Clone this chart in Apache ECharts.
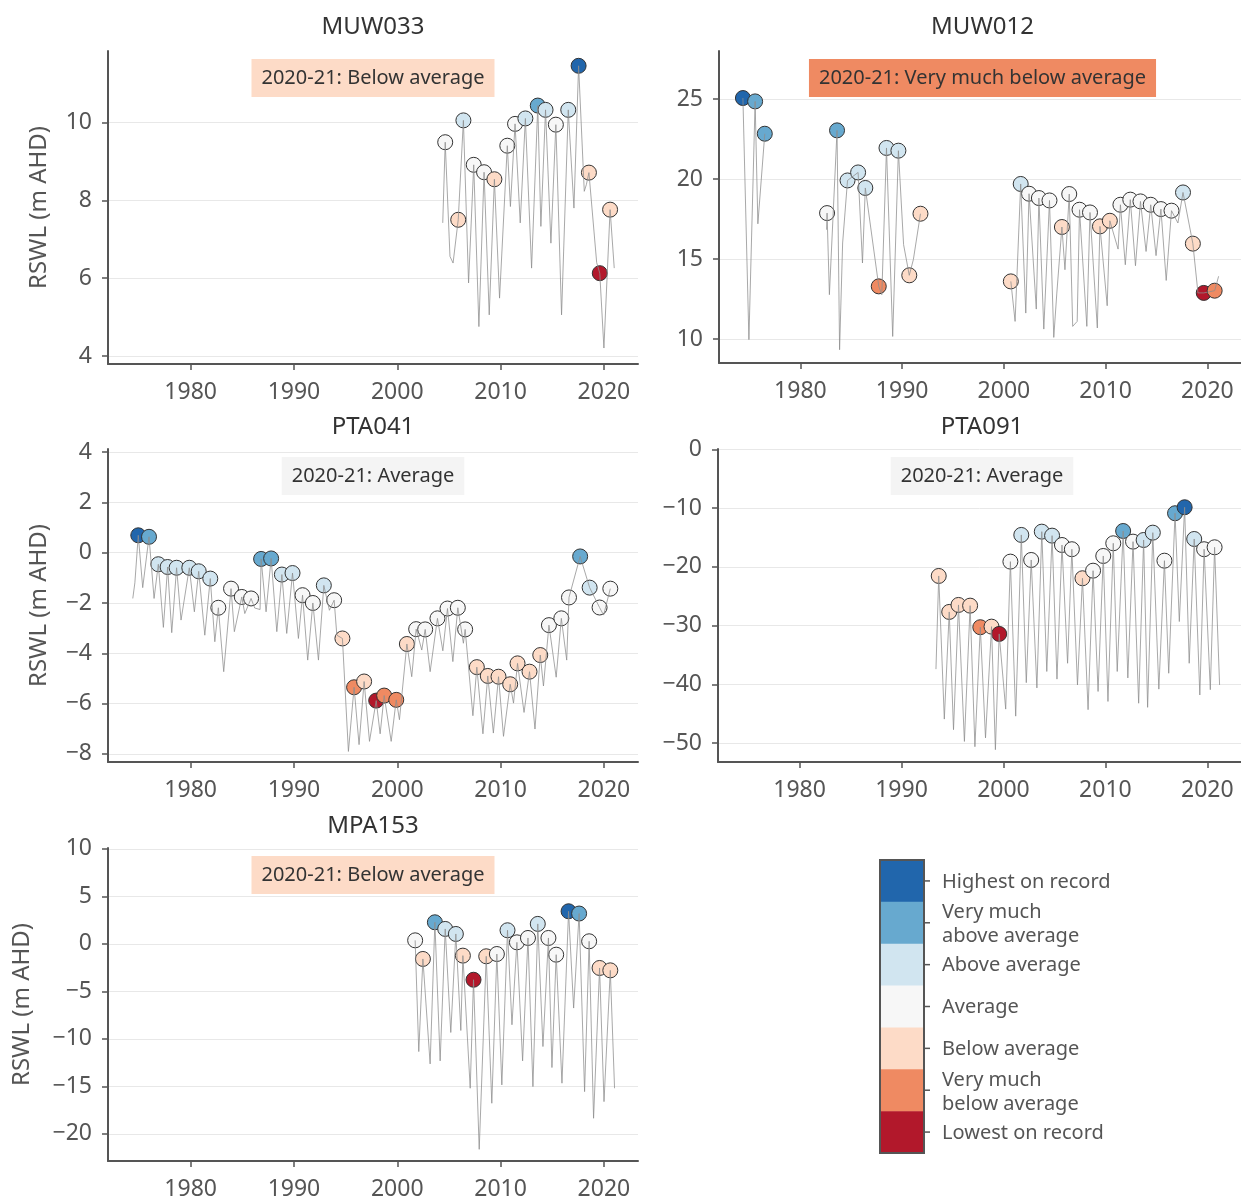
<!DOCTYPE html>
<html><head><meta charset="utf-8">
<script src="https://cdn.jsdelivr.net/npm/echarts@6/dist/echarts.min.js"></script>
<style>html,body{margin:0;padding:0;background:#fff}#c{width:1241px;height:1201px}</style>
</head><body><div id="c"></div>
<script>
// ---------- categories / legend ----------
const categories = ['Highest on record','Very much\nabove average','Above average','Average','Below average','Very much\nbelow average','Lowest on record'];
const categoryColors = ['#2166ac','#67a9cf','#d1e5f0','#f7f7f7','#fddbc7','#ef8a62','#b2182b'];

// ---------- tick labels ----------
const xTicks = [1980,1990,2000,2010,2020];
const yTicks_MUW033 = [4,6,8,10];
const yTicks_MUW012 = [10,15,20,25];
const yTicks_PTA041 = [-8,-6,-4,-2,0,2,4];
const yTicks_PTA091 = [-50,-40,-30,-20,-10,0];
const yTicks_MPA153 = [-20,-15,-10,-5,0,5,10];

// ---------- 2020-21 status ----------
const status_MUW033 = 'Below average';
const status_MUW012 = 'Very much below average';
const status_PTA041 = 'Average';
const status_PTA091 = 'Average';
const status_MPA153 = 'Below average';

// ---------- MUW033 ----------
const lineYears_MUW033 = [2004.4,2004.64,2005.1,2005.4,2005.9,2006.4,2006.9,2007.4,2007.9,2008.4,2008.9,2009.4,2009.9,2010.65,2010.95,2011.1,2011.4,2011.9,2012.4,2013.0,2013.6,2013.9,2014.35,2014.87,2015.35,2015.9,2016.55,2017.1,2017.55,2018.1,2018.3,2018.55,2019.3,2019.6,2020.0,2020.6,2021.0];
const lineRswl_MUW033 = [7.42,9.49,6.56,6.39,7.5,10.05,5.88,8.91,4.76,8.72,5.06,8.54,5.49,9.40,7.84,7.84,9.96,7.42,10.1,6.26,10.43,7.33,10.32,6.90,9.94,5.06,10.32,7.80,11.45,8.23,8.4,8.71,6.4,6.13,4.21,7.76,6.26];
const peakYears_MUW033 = [2004.64,2005.9,2006.4,2007.4,2008.4,2009.4,2010.65,2011.4,2012.4,2013.6,2014.35,2015.35,2016.55,2017.55,2018.55,2019.6,2020.6];
const peakRswl_MUW033 = [9.49,7.5,10.05,8.91,8.72,8.54,9.40,9.96,10.1,10.43,10.32,9.94,10.32,11.45,8.71,6.13,7.76];
const peakClass_MUW033 = [3,4,2,3,3,4,3,3,2,1,2,3,2,0,4,6,4];

// ---------- MUW012 ----------
const lineYears_MUW012 = [1974.35,1974.94,1975.55,1975.82,1976.5,1979,1982.57,1982.62,1982.85,1983.6,1983.85,1984.15,1984.63,1985.67,1986.1,1986.38,1987.7,1988.0,1988.46,1989.07,1989.63,1990.14,1990.7,1991.1,1991.8,1996,2000.68,2001.1,2001.65,2002.15,2002.47,2003.18,2003.44,2003.92,2004.48,2004.9,2005.2,2005.7,2006.0,2006.42,2006.76,2007.2,2007.43,2008.15,2008.46,2009.18,2009.44,2010.15,2010.41,2011.22,2011.45,2011.93,2012.42,2012.93,2013.42,2013.97,2014.43,2014.95,2015.43,2015.95,2016.47,2017.1,2017.6,2018.57,2019.07,2019.64,2020.71,2021.1];
const lineRswl_MUW012 = [25.06,9.96,24.85,17.2,22.83,null,16.83,17.87,12.77,23.04,9.33,16.0,19.91,20.41,14.75,19.44,13.29,12.77,21.94,10.16,21.77,15.9,13.98,14.96,17.83,null,13.6,11.1,19.69,11.62,19.08,11.87,18.81,10.62,18.66,10.1,12.87,17.0,14.33,19.06,10.79,11.1,18.08,10.79,17.91,10.69,17.04,12.08,17.39,15.62,18.39,14.64,18.71,14.58,18.6,15.47,18.39,15.21,18.12,13.66,18.02,17.25,19.16,15.96,12.88,12.88,13.02,13.92];
const peakYears_MUW012 = [1974.35,1975.55,1976.5,1982.62,1983.6,1984.63,1985.67,1986.38,1987.7,1988.46,1989.63,1990.7,1991.8,2000.68,2001.65,2002.47,2003.44,2004.48,2005.7,2006.42,2007.43,2008.46,2009.44,2010.41,2011.45,2012.42,2013.42,2014.43,2015.43,2016.47,2017.6,2018.57,2019.64,2020.71];
const peakRswl_MUW012 = [25.06,24.85,22.83,17.87,23.04,19.91,20.41,19.44,13.29,21.94,21.77,13.98,17.83,13.6,19.69,19.08,18.81,18.66,17.0,19.06,18.08,17.91,17.04,17.39,18.39,18.71,18.6,18.39,18.12,18.02,19.16,15.96,12.88,13.02];
const peakClass_MUW012 = [0,1,1,3,1,2,2,2,5,2,2,4,4,4,2,3,3,3,4,3,3,3,4,4,3,3,3,3,3,3,2,4,6,5];

// ---------- PTA041 ----------
const lineYears_PTA041 = [1974.4,1974.6,1974.93,1975.36,1975.97,1976.46,1976.87,1977.36,1977.77,1978.17,1978.64,1979.07,1979.87,1980.36,1980.78,1981.37,1981.9,1982.34,1982.68,1983.2,1983.91,1984.23,1984.95,1985.24,1985.85,1986.2,1986.72,1986.82,1987.3,1987.79,1988.34,1988.83,1989.3,1989.86,1990.43,1990.83,1991.33,1991.83,1992.37,1992.89,1993.43,1993.89,1994.15,1994.69,1995.27,1995.82,1996.3,1996.79,1997.31,1997.96,1998.34,1998.73,1999.41,1999.9,2000.21,2000.93,2001.4,2001.83,2002.37,2002.7,2003.18,2003.89,2004.41,2004.86,2005.38,2005.86,2006.4,2006.57,2007.32,2007.7,2008.29,2008.76,2009.3,2009.8,2010.28,2010.93,2011.25,2011.64,2012.27,2012.8,2013.33,2013.84,2014.15,2014.68,2015.38,2015.88,2016.4,2016.62,2017.7,2018.62,2019.58,2019.97,2020.62];
const lineRswl_PTA041 = [-1.82,-1.2,0.69,-1.39,0.63,-1.82,-0.46,-2.97,-0.57,-3.18,-0.6,-2.68,-0.6,-2.35,-0.74,-3.28,-1.03,-3.54,-2.19,-4.73,-1.43,-3.14,-1.76,-2.42,-1.82,-2.2,-2.26,-0.25,-2.35,-0.23,-3.14,-0.87,-3.21,-0.81,-3.41,-1.69,-4.27,-2.0,-4.27,-1.3,-2.29,-1.89,-3.28,-3.41,-7.9,-5.35,-7.63,-5.12,-7.5,-5.88,-7.2,-5.68,-7.5,-5.85,-6.64,-3.63,-4.93,-3.04,-3.87,-3.05,-4.73,-2.61,-3.9,-2.22,-4.33,-2.19,-3.6,-3.05,-6.48,-4.55,-7.2,-4.9,-7.17,-4.93,-7.3,-5.23,-5.98,-4.4,-6.35,-4.73,-7.01,-4.07,-5.3,-2.88,-4.95,-2.61,-4.27,-1.78,-0.15,-1.39,-2.18,-2.48,-1.43];
const peakYears_PTA041 = [1974.93,1975.97,1976.87,1977.77,1978.64,1979.87,1980.78,1981.9,1982.68,1983.91,1984.95,1985.85,1986.82,1987.79,1988.83,1989.86,1990.83,1991.83,1992.89,1993.89,1994.69,1995.82,1996.79,1997.96,1998.73,1999.9,2000.93,2001.83,2002.7,2003.89,2004.86,2005.86,2006.57,2007.7,2008.76,2009.8,2010.93,2011.64,2012.8,2013.84,2014.68,2015.88,2016.62,2017.7,2018.62,2019.58,2020.62];
const peakRswl_PTA041 = [0.69,0.63,-0.46,-0.57,-0.6,-0.6,-0.74,-1.03,-2.19,-1.43,-1.76,-1.82,-0.25,-0.23,-0.87,-0.81,-1.69,-2.0,-1.3,-1.89,-3.41,-5.35,-5.12,-5.88,-5.68,-5.85,-3.63,-3.04,-3.05,-2.61,-2.22,-2.19,-3.05,-4.55,-4.9,-4.93,-5.23,-4.4,-4.73,-4.07,-2.88,-2.61,-1.78,-0.15,-1.39,-2.18,-1.43];
const peakClass_PTA041 = [0,1,2,2,2,2,2,2,3,3,3,3,1,1,2,2,3,3,2,3,4,5,4,6,5,5,4,3,3,3,3,3,3,4,4,4,4,4,4,4,3,3,3,1,2,3,3];

// ---------- PTA091 ----------
const lineYears_PTA091 = [1993.38,1993.65,1994.2,1994.68,1995.1,1995.59,1996.17,1996.73,1997.2,1997.73,1998.24,1998.83,1999.21,1999.58,2000.22,2000.68,2001.2,2001.75,2002.24,2002.72,2003.28,2003.76,2004.25,2004.77,2005.25,2005.74,2006.29,2006.71,2007.26,2007.75,2008.3,2008.79,2009.28,2009.79,2010.25,2010.77,2011.16,2011.74,2012.2,2012.71,2013.26,2013.75,2014.14,2014.65,2015.24,2015.79,2016.21,2016.83,2017.25,2017.77,2018.22,2018.71,2019.26,2019.68,2020.29,2020.71,2021.2];
const lineRswl_PTA091 = [-37.4,-21.55,-45.9,-27.67,-47.7,-26.48,-49.7,-26.6,-50.6,-30.27,-49.1,-30.17,-51.1,-31.41,-44.2,-19.11,-45.4,-14.57,-39.7,-18.83,-40.6,-14.01,-37.8,-14.69,-39.1,-16.28,-36.4,-17.0,-40.1,-21.94,-44.3,-20.65,-41.2,-18.15,-42.9,-15.99,-37.8,-13.9,-38.9,-15.71,-43.2,-15.43,-43.9,-14.18,-40.8,-18.95,-38.1,-10.88,-29.3,-9.86,-36.4,-15.26,-41.8,-17.0,-40.9,-16.67,-40.1];
const peakYears_PTA091 = [1993.65,1994.68,1995.59,1996.73,1997.73,1998.83,1999.58,2000.68,2001.75,2002.72,2003.76,2004.77,2005.74,2006.71,2007.75,2008.79,2009.79,2010.77,2011.74,2012.71,2013.75,2014.65,2015.79,2016.83,2017.77,2018.71,2019.68,2020.71];
const peakRswl_PTA091 = [-21.55,-27.67,-26.48,-26.6,-30.27,-30.17,-31.41,-19.11,-14.57,-18.83,-14.01,-14.69,-16.28,-17.0,-21.94,-20.65,-18.15,-15.99,-13.9,-15.71,-15.43,-14.18,-18.95,-10.88,-9.86,-15.26,-17.0,-16.67];
const peakClass_PTA091 = [4,4,4,4,5,4,6,3,2,3,2,2,3,3,4,3,3,3,1,3,2,2,3,1,0,2,3,3];

// ---------- MPA153 ----------
const lineYears_MPA153 = [2001.73,2002.08,2002.48,2003.18,2003.64,2004.15,2004.64,2005.18,2005.67,2006.15,2006.35,2007.06,2007.38,2007.93,2008.61,2009.15,2009.64,2010.12,2010.67,2011.1,2011.58,2012.13,2012.65,2013.13,2013.6,2014.1,2014.63,2014.97,2015.38,2015.94,2016.58,2017.07,2017.6,2018.13,2018.57,2019.0,2019.58,2020.01,2020.62,2021.03];
const lineRswl_MPA153 = [0.38,-11.33,-1.58,-12.63,2.28,-12.31,1.58,-9.32,1.05,-9.11,-1.23,-15.19,-3.77,-21.62,-1.3,-16.77,-1.06,-14.84,1.44,-8.51,0.17,-12.31,0.63,-15.02,2.11,-10.8,0.63,-13.01,-1.13,-14.66,3.44,-6.75,3.2,-15.55,0.28,-18.35,-2.53,-16.6,-2.78,-15.19];
const peakYears_MPA153 = [2001.73,2002.48,2003.64,2004.64,2005.67,2006.35,2007.38,2008.61,2009.64,2010.67,2011.58,2012.65,2013.6,2014.63,2015.38,2016.58,2017.6,2018.57,2019.58,2020.62];
const peakRswl_MPA153 = [0.38,-1.58,2.28,1.58,1.05,-1.23,-3.77,-1.3,-1.06,1.44,0.17,0.63,2.11,0.63,-1.13,3.44,3.2,0.28,-2.53,-2.78];
const peakClass_MPA153 = [3,4,1,2,2,4,6,4,3,2,3,3,2,3,3,0,1,3,4,4];

// ---------- build ----------
const FONT = "'Noto Sans', 'Open Sans', sans-serif";
const catNames = ['Highest on record','Very much above average','Above average','Average','Below average','Very much below average','Lowest on record'];
const panels = [
  {name:'MUW033', grid:{left:108, top:51, width:530, height:313}, yMin:3.8, yMax:11.83, yTicks:yTicks_MUW033, lx:lineYears_MUW033, ly:lineRswl_MUW033, px:peakYears_MUW033, py:peakRswl_MUW033, pc:peakClass_MUW033, status:status_MUW033, titleY:27, boxY:78, yLabelX:39},
  {name:'MUW012', grid:{left:719, top:51, width:527, height:312}, yMin:8.5, yMax:28, yTicks:yTicks_MUW012, lx:lineYears_MUW012, ly:lineRswl_MUW012, px:peakYears_MUW012, py:peakRswl_MUW012, pc:peakClass_MUW012, status:status_MUW012, titleY:27, boxY:78, yLabelX:null},
  {name:'PTA041', grid:{left:108, top:449, width:530, height:313}, yMin:-8.32, yMax:4.12, yTicks:yTicks_PTA041, lx:lineYears_PTA041, ly:lineRswl_PTA041, px:peakYears_PTA041, py:peakRswl_PTA041, pc:peakClass_PTA041, status:status_PTA041, titleY:427, boxY:476, yLabelX:39},
  {name:'PTA091', grid:{left:718, top:449, width:528, height:313}, yMin:-53.2, yMax:0.05, yTicks:yTicks_PTA091, lx:lineYears_PTA091, ly:lineRswl_PTA091, px:peakYears_PTA091, py:peakRswl_PTA091, pc:peakClass_PTA091, status:status_PTA091, titleY:427, boxY:476, yLabelX:null},
  {name:'MPA153', grid:{left:108, top:848, width:530, height:313}, yMin:-22.85, yMax:10.1, yTicks:yTicks_MPA153, lx:lineYears_MPA153, ly:lineRswl_MPA153, px:peakYears_MPA153, py:peakRswl_MPA153, pc:peakClass_MPA153, status:status_MPA153, titleY:826, boxY:875, yLabelX:22}
];

const fmt = v => String(v).replace('-', '\u2212');
const axisCommon = {
  axisLine:{show:true, onZero:false, lineStyle:{color:'#555', width:2}},
  axisTick:{show:true, length:6, lineStyle:{color:'#555', width:1.5}},
  axisLabel:{color:'#555', fontSize:23, fontFamily:FONT}
};

const grids=[], xAxes=[], yAxes=[], series=[], graphics=[];
panels.forEach((p,i)=>{
  grids.push(Object.assign({containLabel:false}, p.grid));
  xAxes.push({type:'value', gridIndex:i, min:1972, max:2023.3,
    axisLine:axisCommon.axisLine,
    axisTick:Object.assign({customValues:xTicks}, axisCommon.axisTick),
    axisLabel:Object.assign({customValues:xTicks, margin:17, formatter:v=>String(v)}, axisCommon.axisLabel),
    splitLine:{show:false}});
  yAxes.push({type:'value', gridIndex:i, min:p.yMin, max:p.yMax,
    axisLine:axisCommon.axisLine,
    axisTick:Object.assign({customValues:p.yTicks}, axisCommon.axisTick),
    axisLabel:Object.assign({customValues:p.yTicks, margin:16, formatter:fmt}, axisCommon.axisLabel),
    splitLine:{show:true, lineStyle:{color:'#e8e8e8', width:1}}});
  series.push({type:'line', xAxisIndex:i, yAxisIndex:i, z:4, showSymbol:false, connectNulls:false,
    lineStyle:{color:'#8c8c8c', width:0.9, opacity:0.85},
    data:p.lx.map((x,j)=>[x, p.ly[j]===null?'-':p.ly[j]]), silent:true});
  series.push({type:'scatter', xAxisIndex:i, yAxisIndex:i, z:3, symbolSize:15,
    itemStyle:{color:d=>categoryColors[d.value[2]], borderColor:'#333', borderWidth:1, opacity:1},
    data:p.px.map((x,j)=>[x, p.py[j], p.pc[j]])});
  const cx = p.grid.left + p.grid.width/2;
  graphics.push({type:'text', x:cx, y:p.titleY, style:{text:p.name, font:'24px '+FONT, fill:'#333', align:'center', verticalAlign:'middle'}});
  graphics.push({type:'text', x:cx, y:p.boxY, z:10, style:{text:'2020-21: '+p.status, font:'20px '+FONT, fill:'#333', align:'center', verticalAlign:'middle',
    backgroundColor: (p.status==='Average' ? '#f4f4f4' : categoryColors[catNames.indexOf(p.status)]), padding:[9,10,9,10]}});
  if (p.yLabelX!==null) {
    graphics.push({type:'text', x:p.yLabelX, y:p.grid.top+p.grid.height/2, rotation:Math.PI/2,
      style:{text:'RSWL (m AHD)', font:'24px '+FONT, fill:'#555', align:'center', verticalAlign:'middle'}});
  }
});

// legend colour bar
const lgX=880, lgY=860, lgW=44, lgH=293, bh=lgH/7;
categories.forEach((c,k)=>{
  graphics.push({type:'rect', shape:{x:lgX, y:lgY+k*bh, width:lgW, height:bh+0.5}, style:{fill:categoryColors[k]}});
  const cy = lgY+(k+0.5)*bh;
  graphics.push({type:'line', shape:{x1:lgX+lgW, y1:cy, x2:lgX+lgW+6, y2:cy}, style:{stroke:'#555', lineWidth:1.5}});
  graphics.push({type:'text', x:942, y:cy+(c.indexOf('\n')>=0?2:1), style:{text:c, font:'20px '+FONT, fill:'#555', align:'left', verticalAlign:'middle', lineHeight:24}});
});
graphics.push({type:'rect', shape:{x:lgX, y:lgY, width:lgW, height:lgH}, style:{fill:'none', stroke:'#555', lineWidth:2}});

const chart = echarts.init(document.getElementById('c'), null, {renderer:'canvas'});
chart.setOption({animation:false, backgroundColor:'#fff', grid:grids, xAxis:xAxes, yAxis:yAxes, series:series, graphic:graphics});
</script></body></html>
